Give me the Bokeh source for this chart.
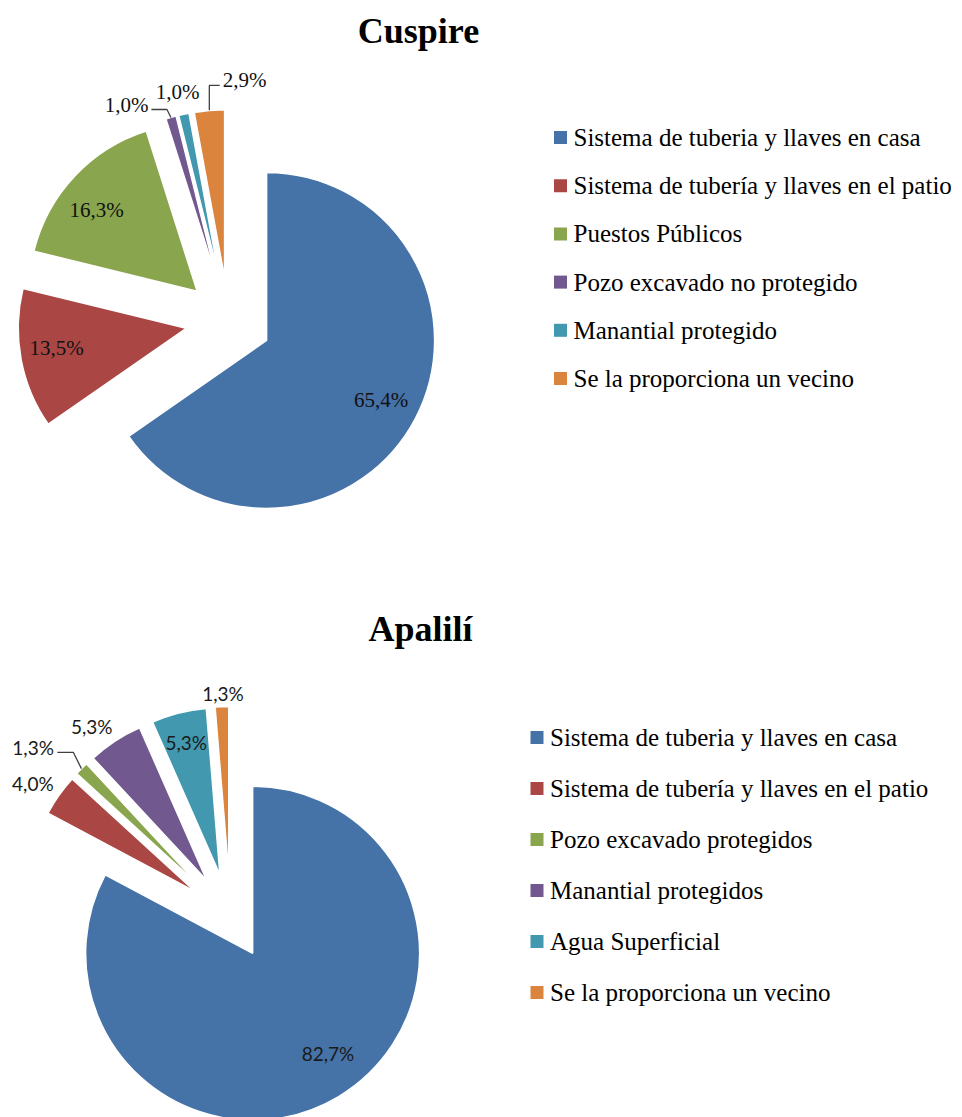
import math
from bokeh.plotting import figure
from bokeh.models import Range1d
from bokeh.core.properties import value
from bokeh.embed import file_html
from bokeh.resources import INLINE

# ---------------- data ----------------
cuspire_title = "Cuspire"
cuspire_categories = [
    "Sistema de tuberia y llaves  en casa",
    "Sistema de tubería y llaves  en el patio",
    "Puestos Públicos",
    "Pozo excavado no protegido",
    "Manantial protegido",
    "Se la proporciona un vecino",
]
cuspire_values = [65.4, 13.5, 16.3, 1.0, 1.0, 2.9]

apalili_title = "Apalilí"
apalili_categories = [
    "Sistema de tuberia y llaves  en casa",
    "Sistema de tubería y llaves  en el patio",
    "Pozo excavado protegidos",
    "Manantial protegidos",
    "Agua Superficial",
    "Se la proporciona un vecino",
]
apalili_values = [82.7, 4.0, 1.3, 5.3, 5.3, 1.3]

colors = ["#4572A7", "#AA4643", "#89A54E", "#71588F", "#4198AF", "#DB843D"]

# ---------------- layout / style ----------------
W, H = 962, 1117
SERIF = "Liberation Serif"
SANS = "Lato"

layouts = [
    dict(
        title=cuspire_title, cats=cuspire_categories, vals=cuspire_values,
        cx=228, cy=320, r=168, explode=43,
        title_x=418, title_y=30,
        legend_x=560, legend_y0=137, legend_step=48.2, legend_font_px=25,
        label_font=SERIF, label_px=21, label_color="#111111", charw=dict(d=0.5, c=0.25, p=0.83),
        # (radial factor from slice apex, angle shift in degrees, leader slant or None)
        placement=[(0.77, 0, None), (0.78, -1.7, None), (0.77, 4, None),
                   (1.17, 11.5, 0.5), (1.14, 0.4, None), (1.18, -11, 0.0)],
    ),
    dict(
        title=apalili_title, cats=apalili_categories, vals=apalili_values,
        cx=230, cy=916, r=167, explode=43,
        title_x=420, title_y=628,
        legend_x=536.5, legend_y0=737, legend_step=51, legend_font_px=25,
        label_font=SANS, label_px=19, label_color="#1a1a1a", charw=dict(d=0.58, c=0.22, p=0.85),
        placement=[(0.75, 6, None), (1.17, 1.5, None), (1.30, 5, 0.5),
                   (1.15, 3.5, None), (0.82, 0, None), (1.08, -0.5, None)],
    ),
]

p = figure(width=W, height=H, x_range=Range1d(0, W), y_range=Range1d(H, 0),
           min_border=0, toolbar_location=None, output_backend="svg",
           x_axis_location=None, y_axis_location=None)
p.grid.visible = False
p.outline_line_color = None
p.background_fill_color = "white"
p.border_fill_color = "white"


def fmt(v):
    return f"{v:.1f}".replace(".", ",") + "%"


def text_w(s, px, cw):
    w = 0
    for ch in s:
        if ch.isdigit():
            w += cw["d"]
        elif ch == ",":
            w += cw["c"]
        elif ch == "%":
            w += cw["p"]
        else:
            w += 0.5
    return w * px


for L in layouts:
    vals = L["vals"]
    total = sum(vals)
    cx, cy, r, ex = L["cx"], L["cy"], L["r"], L["explode"]
    wx, wy, sa, ea, col = [], [], [], [], []
    lx, ly, lt = [], [], []
    leader_xs, leader_ys = [], []
    cum = 0.0
    for i, v in enumerate(vals):
        a0 = cum / total
        cum += v
        a1 = cum / total
        th0 = math.pi / 2 - 2 * math.pi * a0
        th1 = math.pi / 2 - 2 * math.pi * a1
        mid = (th0 + th1) / 2
        ax = cx + ex * math.cos(mid)
        ay = cy - ex * math.sin(mid)
        wx.append(ax); wy.append(ay)
        sa.append(th1); ea.append(th0)
        col.append(colors[i])
        rf, dang, slant = L["placement"][i]
        ang = mid + math.radians(dang)
        tx = ax + rf * r * math.cos(ang)
        ty = ay - rf * r * math.sin(ang)
        s = fmt(v)
        lx.append(tx); ly.append(ty); lt.append(s)
        if slant is not None:
            px_ = ax + r * math.cos(mid)
            py_ = ay - r * math.sin(mid)
            hw = text_w(s, L["label_px"], L["charw"]) / 2
            side = 1 if px_ > tx else -1
            sx = tx + side * (hw + 3)
            sy = ty + 5
            exx = px_ - side * slant * (py_ - sy)
            leader_xs.append([sx, exx, px_])
            leader_ys.append([sy, sy, py_])

    p.wedge(x=wx, y=wy, radius=r, start_angle=sa, end_angle=ea, direction="anticlock",
            fill_color=col, line_color="white", line_width=1.5)

    if leader_xs:
        p.multi_line(xs=leader_xs, ys=leader_ys, line_color="#404040", line_width=1.3)

    p.text(x=lx, y=ly, text=lt, text_font=value(L["label_font"]),
           text_font_size=value(f'{L["label_px"]}px'), text_color=L["label_color"],
           text_align="center", text_baseline="middle")

    # title
    p.text(x=[L["title_x"]], y=[L["title_y"]], text=[L["title"]], text_font=value(SERIF),
           text_font_size=value("36px"), text_font_style="bold", text_color="black",
           text_align="center", text_baseline="middle")

    # legend
    ys = [L["legend_y0"] + k * L["legend_step"] for k in range(len(L["cats"]))]
    p.rect(x=[L["legend_x"]] * len(ys), y=ys, width=13, height=13,
           fill_color=colors[:len(ys)], line_color=None)
    p.text(x=[L["legend_x"] + 13] * len(ys), y=ys, text=L["cats"], text_font=value(SERIF),
           text_font_size=value(f'{L["legend_font_px"]}px'), text_color="black",
           text_align="left", text_baseline="middle")

open("out.html", "w").write(file_html(p, INLINE))
